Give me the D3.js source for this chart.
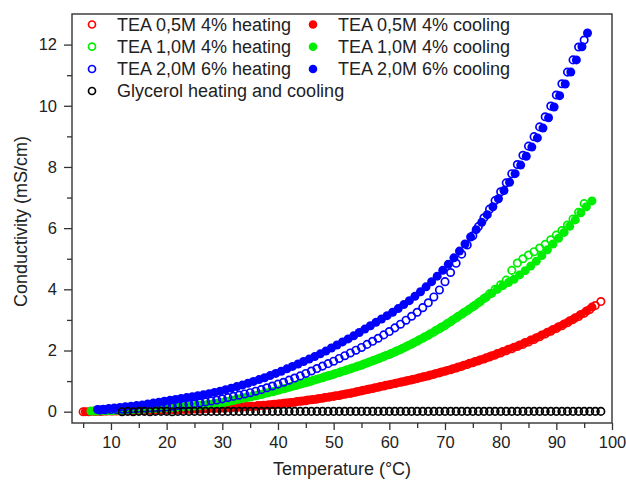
<!DOCTYPE html>
<html>
<head>
<meta charset="utf-8">
<script src="https://cdn.jsdelivr.net/npm/d3@7/dist/d3.min.js"></script>
<style>
  body { margin: 0; background: #fff; }
  text { font-family: "Liberation Sans", Arial, sans-serif; fill: #222; }
</style>
</head>
<body>
<svg id="chart" width="626" height="480"></svg>
<script>
// TEA 0,5M 4% heating / cooling
var redHeatT = [5,6,7,8,9,10,11,12,13,14,15,16,17,18,19,20,21,22,23,24,25,26,27,28,29,30,31,32,33,34,35,36,37,38,39,40,41,42,43,44,45,46,47,48,49,50,51,52,53,54,55,56,57,58,59,60,61,62,63,64,65,66,67,68,69,70,71,72,73,74,75,76,77,78,79,80,81,82,83,84,85,86,87,88,89,90,91,92,93,94,95,96,97,98];
var redHeatV = [0.00,0.00,0.01,0.01,0.02,0.02,0.02,0.03,0.03,0.03,0.04,0.04,0.05,0.05,0.06,0.06,
  0.07,0.07,0.08,0.08,0.09,0.09,0.10,0.11,0.11,0.12,
  0.13,0.14,0.15,0.16,0.17,0.18,0.20,0.21,0.23,0.25,
  0.27,0.29,0.31,0.34,0.36,0.39,0.41,0.44,0.47,0.50,
  0.53,0.57,0.60,0.64,0.68,0.72,0.76,0.80,0.84,0.88,
  0.92,0.96,1.00,1.04,1.08,1.13,1.17,1.22,1.27,1.32,
  1.37,1.43,1.48,1.54,1.60,1.66,1.72,1.79,1.85,1.92,
  1.99,2.06,2.13,2.20,2.28,2.36,2.45,2.54,2.63,2.72,
  2.81,2.91,3.01,3.11,3.22,3.34,3.47,3.60];
var redCoolT = [5.4,6.4,7.4,8.4,9.4,10.4,11.4,12.4,13.4,14.4,15.4,16.4,17.4,18.4,19.4,20.4,21.4,22.4,23.4,24.4,25.4,26.4,27.4,28.4,29.4,30.4,31.4,32.4,33.4,34.4,35.4,36.4,37.4,38.4,39.4,40.4,41.4,42.4,43.4,44.4,45.4,46.4,47.4,48.4,49.4,50.4,51.4,52.4,53.4,54.4,55.4,56.4,57.4,58.4,59.4,60.4,61.4,62.4,63.4,64.4,65.4,66.4,67.4,68.4,69.4,70.4,71.4,72.4,73.4,74.4,75.4,76.4,77.4,78.4,79.4,80.4,81.4,82.4,83.4,84.4,85.4,86.4,87.4,88.4,89.4,90.4,91.4,92.4,93.4,94.4,95.4,96.4];
var redCoolV = [0.00,0.01,0.01,0.01,0.02,0.02,0.03,0.03,0.03,0.04,0.04,0.05,0.05,0.06,0.06,0.07,
  0.07,0.08,0.08,0.09,0.10,0.10,0.11,0.12,0.12,0.13,
  0.14,0.15,0.16,0.17,0.18,0.20,0.21,0.23,0.24,0.26,
  0.28,0.30,0.33,0.35,0.38,0.40,0.43,0.46,0.49,0.52,
  0.55,0.59,0.62,0.66,0.70,0.74,0.78,0.82,0.86,0.90,
  0.94,0.98,1.02,1.06,1.11,1.15,1.20,1.25,1.30,1.35,
  1.40,1.46,1.52,1.58,1.64,1.70,1.76,1.83,1.90,1.97,
  2.04,2.11,2.18,2.26,2.34,2.42,2.51,2.60,2.69,2.78,
  2.87,2.97,3.07,3.18,3.29,3.42];

// TEA 1,0M 4% heating / cooling
var greenHeatT = [7,8,9,10,11,12,13,14,15,16,17,18,19,20,21,22,23,24,25,26,27,28,29,30,31,32,33,34,35,36,37,38,39,40,41,42,43,44,45,46,47,48,49,50,51,52,53,54,55,56,57,58,59,60,61,62,63,64,65,66,67,68,69,70,71,72,73,74,75,76,77,78,79,80,81,82,83,84,85,86,87,88,89,90,91,92,93,94,95];
var greenHeatV = [0.02,0.03,0.03,0.04,0.05,0.05,0.06,0.07,0.08,0.09,0.10,0.11,0.12,0.13,
  0.14,0.15,0.16,0.18,0.19,0.21,0.22,0.24,0.27,0.30,
  0.33,0.37,0.41,0.45,0.48,0.52,0.56,0.61,0.65,0.70,
  0.75,0.80,0.85,0.90,0.95,1.00,1.06,1.11,1.17,1.22,
  1.28,1.34,1.40,1.46,1.52,1.59,1.66,1.73,1.80,1.87,
  1.95,2.03,2.12,2.21,2.30,2.40,2.50,2.60,2.71,2.82,
  2.94,3.06,3.18,3.30,3.43,3.56,3.70,3.85,4.00,4.15,
  4.30,4.62,4.86,5.00,5.12,5.23,5.35,5.47,5.62,5.77,
  5.92,6.10,6.30,6.52,6.80];
var greenCoolT = [6.4,7.4,8.4,9.4,10.4,11.4,12.4,13.4,14.4,15.4,16.4,17.4,18.4,19.4,20.4,21.4,22.4,23.4,24.4,25.4,26.4,27.4,28.4,29.4,30.4,31.4,32.4,33.4,34.4,35.4,36.4,37.4,38.4,39.4,40.4,41.4,42.4,43.4,44.4,45.4,46.4,47.4,48.4,49.4,50.4,51.4,52.4,53.4,54.4,55.4,56.4,57.4,58.4,59.4,60.4,61.4,62.4,63.4,64.4,65.4,66.4,67.4,68.4,69.4,70.4,71.4,72.4,73.4,74.4,75.4,76.4,77.4,78.4,79.4,80.4,81.4,82.4,83.4,84.4,85.4,86.4,87.4,88.4,89.4,90.4,91.4,92.4,93.4,94.4,95.4,96.4];
var greenCoolV = [0.02,0.02,0.03,0.04,0.04,0.05,0.06,0.06,0.07,0.08,0.09,0.10,0.11,0.12,0.13,
  0.14,0.16,0.17,0.18,0.20,0.21,0.23,0.25,0.28,0.31,
  0.35,0.39,0.43,0.46,0.50,0.54,0.58,0.63,0.67,0.72,
  0.77,0.82,0.87,0.92,0.97,1.03,1.08,1.14,1.19,1.25,
  1.31,1.37,1.43,1.49,1.56,1.62,1.69,1.76,1.84,1.91,
  1.99,2.07,2.16,2.25,2.35,2.45,2.55,2.66,2.77,2.88,
  3.00,3.12,3.24,3.36,3.48,3.61,3.74,3.87,4.00,4.12,
  4.22,4.33,4.47,4.61,4.76,4.92,5.10,5.29,5.48,5.67,
  5.86,6.06,6.27,6.50,6.70,6.89];

// TEA 2,0M 6% heating / cooling
var blueHeatT = [8,9,10,11,12,13,14,15,16,17,18,19,20,21,22,23,24,25,26,27,28,29,30,31,32,33,34,35,36,37,38,39,40,41,42,43,44,45,46,47,48,49,50,51,52,53,54,55,56,57,58,59,60,61,62,63,64,65,66,67,68,69,70,71,72,73,74,75,76,77,78,79,80,81,82,83,84,85,86,87,88,89,90,91,92,93,94,95];
var blueHeatV = [0.05,0.06,0.07,0.07,0.08,0.09,0.10,0.11,0.12,0.13,0.14,0.15,0.16,
  0.18,0.20,0.22,0.24,0.26,0.29,0.32,0.35,0.38,0.42,
  0.46,0.50,0.54,0.58,0.62,0.67,0.72,0.78,0.84,0.90,
  0.96,1.03,1.10,1.17,1.25,1.33,1.41,1.49,1.57,1.65,
  1.74,1.83,1.92,2.01,2.10,2.20,2.30,2.40,2.51,2.62,
  2.74,2.86,2.99,3.12,3.25,3.40,3.56,3.75,3.98,4.25,
  4.55,4.85,5.15,5.45,5.75,6.05,6.34,6.62,6.90,7.19,
  7.48,7.78,8.08,8.38,8.68,8.99,9.31,9.64,9.99,10.35,
  10.72,11.10,11.50,11.92,12.15];
var blueCoolT = [7.6,8.6,9.6,10.6,11.6,12.6,13.6,14.6,15.6,16.6,17.6,18.6,19.6,20.6,21.6,22.6,23.6,24.6,25.6,26.6,27.6,28.6,29.6,30.6,31.6,32.6,33.6,34.6,35.6,36.6,37.6,38.6,39.6,40.6,41.6,42.6,43.6,44.6,45.6,46.6,47.6,48.6,49.6,50.6,51.6,52.6,53.6,54.6,55.6,56.6,57.6,58.6,59.6,60.6,61.6,62.6,63.6,64.6,65.6,66.6,67.6,68.6,69.6,70.6,71.6,72.6,73.6,74.6,75.6,76.6,77.6,78.6,79.6,80.6,81.6,82.6,83.6,84.6,85.6,86.6,87.6,88.6,89.6,90.6,91.6,92.6,93.6,94.6,95.6];
var blueCoolV = [0.07,0.08,0.10,0.12,0.14,0.16,0.18,0.20,0.22,0.25,0.28,0.31,0.34,
  0.37,0.40,0.43,0.46,0.49,0.52,0.55,0.59,0.63,0.67,
  0.72,0.77,0.82,0.87,0.93,0.99,1.05,1.11,1.18,1.25,
  1.32,1.40,1.48,1.56,1.64,1.72,1.80,1.89,1.98,2.08,
  2.18,2.28,2.38,2.48,2.59,2.70,2.81,2.92,3.03,3.14,
  3.25,3.37,3.50,3.63,3.77,3.92,4.08,4.25,4.43,4.62,
  4.82,5.03,5.25,5.48,5.71,5.95,6.19,6.44,6.70,6.96,
  7.23,7.50,7.78,8.06,8.35,8.65,8.95,9.27,9.61,9.96,
  10.33,10.71,11.10,11.50,11.93,12.38];

// Glycerol heating and cooling
var glyT = [12,13,14,15,16,17,18,19,20,21,22,23,24,25,26,27,28,29,30,31,32,33,34,35,36,37,38,39,40,41,42,43,44,45,46,47,48,49,50,51,52,53,54,55,56,57,58,59,60,61,62,63,64,65,66,67,68,69,70,71,72,73,74,75,76,77,78,79,80,81,82,83,84,85,86,87,88,89,90,91,92,93,94,95,96,97,98];
var glyV = [0.00,0.01,0.00,0.01,0.01,0.00,0.01,0.01,0.01,0.00,
  0.01,0.01,0.01,0.01,0.01,0.01,0.01,0.01,0.01,0.01,
  0.01,0.01,0.01,0.01,0.01,0.01,0.01,0.01,0.01,0.01,
  0.01,0.01,0.01,0.01,0.01,0.01,0.01,0.01,0.01,0.01,
  0.01,0.01,0.01,0.01,0.01,0.01,0.01,0.01,0.01,0.01,
  0.01,0.01,0.01,0.01,0.01,0.01,0.01,0.01,0.01,0.01,
  0.01,0.01,0.01,0.01,0.01,0.01,0.01,0.01,0.01,0.01,
  0.01,0.01,0.01,0.01,0.01,0.01,0.01,0.01,0.01,0.01,
  0.01,0.01,0.01,0.01,0.01,0.01,0.01];

var xMajor = [10,20,30,40,50,60,70,80,90,100];
var xMinor = [5,15,25,35,45,55,65,75,85,95];
var yMajor = [0,2,4,6,8,10,12];
var yMinor = [1,3,5,7,9,11];

var series = [
  { name: "TEA 0,5M 4% heating", t: redHeatT, v: redHeatV, color: "#ff0000", open: true },
  { name: "TEA 0,5M 4% cooling", t: redCoolT, v: redCoolV, color: "#ff0000", open: false },
  { name: "TEA 1,0M 4% heating", t: greenHeatT, v: greenHeatV, color: "#00ee00", open: true },
  { name: "TEA 1,0M 4% cooling", t: greenCoolT, v: greenCoolV, color: "#00ee00", open: false },
  { name: "TEA 2,0M 6% heating", t: blueHeatT, v: blueHeatV, color: "#0000ff", open: true },
  { name: "TEA 2,0M 6% cooling", t: blueCoolT, v: blueCoolV, color: "#0000ff", open: false },
  { name: "Glycerol heating and cooling", t: glyT, v: glyV, color: "#000000", open: true }
];

var plotLeft = 72, plotRight = 612, plotTop = 14, plotBottom = 423;

var svg = d3.select("#chart");

var x = d3.scaleLinear().domain([3, 100]).range([plotLeft, plotRight]);
var y = d3.scaleLinear().domain([-0.37, 13.0]).range([plotBottom, plotTop]);

// axes (ticks outside, bottom and left only)
svg.append("g").attr("transform", "translate(0," + plotBottom + ")")
  .call(d3.axisBottom(x).tickValues(xMajor).tickSize(7).tickPadding(6).tickSizeOuter(0));
svg.append("g").attr("transform", "translate(0," + plotBottom + ")")
  .call(d3.axisBottom(x).tickValues(xMinor).tickSize(5).tickFormat("").tickSizeOuter(0));
svg.append("g").attr("transform", "translate(" + plotLeft + ",0)")
  .call(d3.axisLeft(y).tickValues(yMajor).tickSize(8).tickPadding(7).tickSizeOuter(0));
svg.append("g").attr("transform", "translate(" + plotLeft + ",0)")
  .call(d3.axisLeft(y).tickValues(yMinor).tickSize(5).tickFormat("").tickSizeOuter(0));

svg.selectAll(".domain").remove();
svg.selectAll(".tick line").attr("stroke", "#333").attr("stroke-width", 1.3);
svg.selectAll(".tick text").style("font-size", "16.5px").attr("fill", "#222");

// data points
var plot = svg.append("g");
series.forEach(function (s) {
  var pts = s.t.map(function (t, i) { return [t, s.v[i]]; });
  plot.append("g").selectAll("circle")
    .data(pts)
    .enter()
    .append("circle")
    .attr("cx", function (d) { return x(d[0]); })
    .attr("cy", function (d) { return y(d[1]); })
    .attr("r", s.open ? 3.7 : 4.5)
    .attr("fill", s.open ? "none" : s.color)
    .attr("stroke", s.open ? s.color : "none")
    .attr("stroke-width", s.open ? 1.7 : 0);
});

// frame
svg.append("rect")
  .attr("x", plotLeft).attr("y", plotTop)
  .attr("width", plotRight - plotLeft).attr("height", plotBottom - plotTop)
  .attr("fill", "none").attr("stroke", "#333").attr("stroke-width", 1.4);

// legend
var legendPos = [
  [92, 24.5], [313, 24.5], [92, 46.7], [313, 46.7], [92, 69], [313, 69], [92, 91]
];
var legend = svg.append("g");
series.forEach(function (s, i) {
  var p = legendPos[i];
  legend.append("circle")
    .attr("cx", p[0]).attr("cy", p[1])
    .attr("r", s.open ? 3.5 : 4.3)
    .attr("fill", s.open ? "none" : s.color)
    .attr("stroke", s.open ? s.color : "none")
    .attr("stroke-width", s.open ? 1.7 : 0);
  legend.append("text")
    .attr("x", p[0] + 25).attr("y", p[1])
    .attr("dy", "0.35em")
    .style("font-size", "18px")
    .text(s.name);
});

// axis titles
svg.append("text")
  .attr("x", (plotLeft + plotRight) / 2).attr("y", 475)
  .attr("text-anchor", "middle")
  .style("font-size", "18px")
  .text("Temperature (°C)");
svg.append("text")
  .attr("transform", "translate(27," + ((plotTop + plotBottom) / 2 + 3) + ") rotate(-90)")
  .attr("text-anchor", "middle")
  .style("font-size", "18px")
  .text("Conductivity (mS/cm)");
</script>
</body>
</html>
